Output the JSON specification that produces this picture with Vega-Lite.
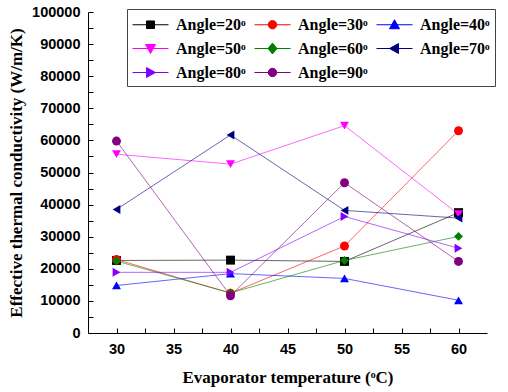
{
  "$schema": "https://vega.github.io/schema/vega-lite/v6.json",
  "width": 399,
  "height": 321,
  "autosize": "none",
  "padding": {"left": 88, "top": 12, "right": 21, "bottom": 59},
  "background": "white",
  "config": {"view": {"stroke": null}},
  "data": {
    "values": [
      {"t": 30, "angle": "Angle=20ᵒ", "marker": "20", "k": 22600},
      {"t": 40, "angle": "Angle=20ᵒ", "marker": "20", "k": 22700},
      {"t": 50, "angle": "Angle=20ᵒ", "marker": "20", "k": 22300},
      {"t": 60, "angle": "Angle=20ᵒ", "marker": "20", "k": 37500},
      {"t": 30, "angle": "Angle=30ᵒ", "marker": "30", "k": 22900},
      {"t": 40, "angle": "Angle=30ᵒ", "marker": "30", "k": 12400},
      {"t": 50, "angle": "Angle=30ᵒ", "marker": "30", "k": 27100},
      {"t": 60, "angle": "Angle=30ᵒ", "marker": "30", "k": 63000},
      {"t": 30, "angle": "Angle=40ᵒ", "marker": "40", "k": 14800},
      {"t": 40, "angle": "Angle=40ᵒ", "marker": "40", "k": 18500},
      {"t": 50, "angle": "Angle=40ᵒ", "marker": "40", "k": 17000},
      {"t": 60, "angle": "Angle=40ᵒ", "marker": "40", "k": 10200},
      {"t": 30, "angle": "Angle=50ᵒ", "marker": "50", "k": 55700},
      {"t": 40, "angle": "Angle=50ᵒ", "marker": "50", "k": 52600},
      {"t": 50, "angle": "Angle=50ᵒ", "marker": "50", "k": 64600},
      {"t": 60, "angle": "Angle=50ᵒ", "marker": "50", "k": 37000},
      {"t": 30, "angle": "Angle=60ᵒ", "marker": "60", "k": 22400},
      {"t": 40, "angle": "Angle=60ᵒ", "marker": "60", "k": 12500},
      {"t": 50, "angle": "Angle=60ᵒ", "marker": "60", "k": 22600},
      {"t": 60, "angle": "Angle=60ᵒ", "marker": "60", "k": 30100},
      {"t": 30, "angle": "Angle=70ᵒ", "marker": "70", "k": 38500},
      {"t": 40, "angle": "Angle=70ᵒ", "marker": "70", "k": 61700},
      {"t": 50, "angle": "Angle=70ᵒ", "marker": "70", "k": 38200},
      {"t": 60, "angle": "Angle=70ᵒ", "marker": "70", "k": 35800},
      {"t": 30, "angle": "Angle=80ᵒ", "marker": "80", "k": 18900},
      {"t": 40, "angle": "Angle=80ᵒ", "marker": "80", "k": 18900},
      {"t": 50, "angle": "Angle=80ᵒ", "marker": "80", "k": 36300},
      {"t": 60, "angle": "Angle=80ᵒ", "marker": "80", "k": 26400},
      {"t": 30, "angle": "Angle=90ᵒ", "marker": "90", "k": 59800},
      {"t": 40, "angle": "Angle=90ᵒ", "marker": "90", "k": 11600},
      {"t": 50, "angle": "Angle=90ᵒ", "marker": "90", "k": 46800},
      {"t": 60, "angle": "Angle=90ᵒ", "marker": "90", "k": 22300}
    ]
  },
  "encoding": {
    "x": {
      "field": "t",
      "type": "quantitative",
      "scale": {"domain": [27.5, 62.5], "nice": false, "zero": false},
      "axis": {
        "values": [30, 32.5, 35, 37.5, 40, 42.5, 45, 47.5, 50, 52.5, 55, 57.5, 60],
        "labelExpr": "datum.value % 5 === 0 ? datum.label : ''",
        "labelFont": "Liberation Sans",
        "labelFontWeight": "bold",
        "labelFontSize": 14.5,
        "labelColor": "black",
        "labelFlush": false,
        "labelOverlap": false,
        "tickSize": -5,
        "labelPadding": 14,
        "tickColor": "black",
        "domainColor": "black",
        "grid": false,
        "encode": {"ticks": {"update": {"y2": {"signal": "datum.value % 5 === 0 ? -5 : -3"}}}},
        "title": "Evaporator temperature (ᵒC)",
        "titleFont": "Liberation Serif",
        "titleFontSize": 17,
        "titleFontWeight": "bold",
        "titleColor": "black",
        "titleX": 199.5,
        "titleY": 44,
        "titleBaseline": "middle",
        "titleAlign": "center"
      }
    },
    "y": {
      "field": "k",
      "type": "quantitative",
      "scale": {"domain": [0, 100000], "nice": false},
      "axis": {
        "values": [0, 5000, 10000, 15000, 20000, 25000, 30000, 35000, 40000, 45000, 50000, 55000, 60000, 65000, 70000, 75000, 80000, 85000, 90000, 95000, 100000],
        "format": "d",
        "labelExpr": "datum.value % 10000 === 0 ? datum.label : ''",
        "labelFont": "Liberation Sans",
        "labelFontWeight": "bold",
        "labelFontSize": 14.5,
        "labelColor": "black",
        "labelFlush": false,
        "labelOverlap": false,
        "tickSize": -5,
        "labelPadding": 13,
        "tickColor": "black",
        "domainColor": "black",
        "grid": false,
        "encode": {"ticks": {"update": {"x2": {"signal": "datum.value % 10000 === 0 ? 5 : 3"}}}},
        "title": "Effective thermal conductivity (W/m/K)",
        "titleFont": "Liberation Serif",
        "titleFontSize": 17,
        "titleFontWeight": "bold",
        "titleColor": "black",
        "titleX": -72,
        "titleY": 160.5,
        "titleAngle": -90,
        "titleBaseline": "middle",
        "titleAlign": "center"
      }
    },
    "color": {
      "field": "angle",
      "type": "nominal",
      "scale": {
        "domain": ["Angle=20ᵒ", "Angle=30ᵒ", "Angle=40ᵒ", "Angle=50ᵒ", "Angle=60ᵒ", "Angle=70ᵒ", "Angle=80ᵒ", "Angle=90ᵒ"],
        "range": ["#000000", "#ff0000", "#0000ff", "#ff00ff", "#008000", "#000080", "#8000ff", "#800080"]
      },
      "legend": {
        "orient": "none",
        "legendX": 39,
        "legendY": -3,
        "columns": 3,
        "direction": "horizontal",
        "title": null,
        "padding": 5,
        "strokeColor": "#444444",
        "fillColor": "white",
        "symbolSize": 400,
        "symbolStrokeWidth": 1,
        "symbolOpacity": 1,
        "labelFont": "Liberation Serif",
        "labelFontWeight": "bold",
        "labelFontSize": 16,
        "labelColor": "black",
        "labelOffset": 23,
        "labelLimit": 200,
        "columnPadding": 6,
        "rowPadding": 5,
        "encode": {
          "symbols": {
            "update": {
              "shape": {"signal": "['M-1,0H2.6M0.4,-0.38H1.2V0.38H0.4Z','M-1,0H2.6M0.38,0A0.42,0.42 0 1 0 1.22,0A0.42,0.42 0 1 0 0.38,0Z','M-1,0H2.6M0.8,-0.5L1.3,0.4H0.3Z','M-1,0H2.6M0.8,0.5L1.3,-0.4H0.3Z','M-1,0H2.6M0.8,-0.55L1.25,0L0.8,0.55L0.35,0Z','M-1,0H2.6M0.3,0L1.2,-0.5V0.5Z','M-1,0H2.6M1.3,0L0.4,-0.5V0.5Z','M-1,0H2.6M0.38,0A0.42,0.42 0 1 0 1.22,0A0.42,0.42 0 1 0 0.38,0Z'][datum.index]"},
              "strokeWidth": {"value": 1},
              "opacity": {"value": 1}
            }
          }
        }
      }
    }
  },
  "layer": [
    {"mark": {"type": "line", "strokeWidth": 1, "opacity": 0.6}},
    {
      "mark": {"type": "point", "filled": true, "size": 80, "opacity": 1},
      "encoding": {
        "shape": {
          "field": "marker",
          "type": "nominal",
          "scale": {
            "domain": ["20", "30", "40", "50", "60", "70", "80", "90"],
            "range": ["square", "circle", "triangle-up", "triangle-down", "diamond", "triangle-left", "triangle-right", "circle"]
          },
          "legend": null
        }
      }
    }
  ]
}
